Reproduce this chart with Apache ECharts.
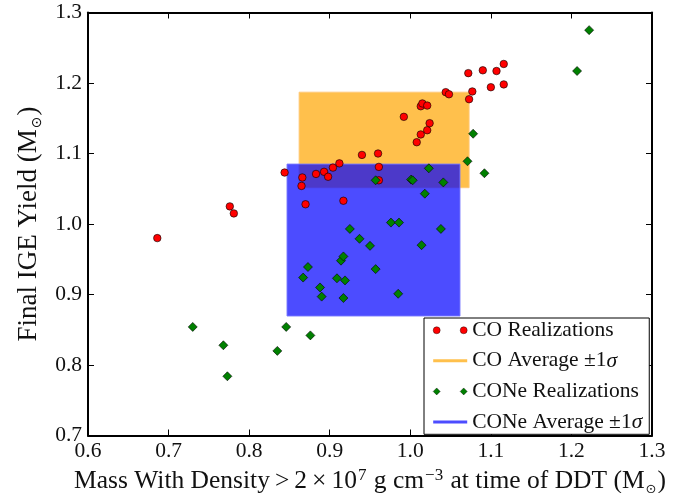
<!DOCTYPE html>
<html>
<head>
<meta charset="utf-8">
<script src="https://cdn.jsdelivr.net/npm/echarts@6/dist/echarts.min.js"></script>
<style>
html,body{margin:0;padding:0;background:#fff;}
#chart{width:699px;height:493px;}
</style>
</head>
<body>
<div id="chart"></div>
<script>
// ---- data ----
const xTicks = [0.6, 0.7, 0.8, 0.9, 1.0, 1.1, 1.2, 1.3];
const yTicks = [0.7, 0.8, 0.9, 1.0, 1.1, 1.2, 1.3];

const coMass = [0.686, 0.776, 0.781, 0.844, 0.866, 0.865, 0.870, 0.883, 0.893, 0.898, 0.904, 0.912, 0.917, 0.940, 0.960, 0.961, 0.961, 0.992, 1.008, 1.013, 1.021, 1.024, 1.013, 1.015, 1.021, 1.044, 1.048, 1.073, 1.077, 1.072, 1.090, 1.107, 1.116, 1.100, 1.116];
const coYield = [0.980, 1.025, 1.015, 1.073, 1.066, 1.054, 1.028, 1.071, 1.074, 1.067, 1.080, 1.086, 1.033, 1.098, 1.100, 1.081, 1.062, 1.152, 1.116, 1.127, 1.133, 1.143, 1.167, 1.171, 1.168, 1.187, 1.184, 1.177, 1.188, 1.214, 1.218, 1.217, 1.227, 1.194, 1.198];

const coneMass = [0.730, 0.768, 0.773, 0.835, 0.846, 0.876, 0.867, 0.873, 0.888, 0.890, 0.909, 0.919, 0.917, 0.914, 0.917, 0.925, 0.937, 0.950, 0.957, 0.976, 0.986, 0.985, 1.014, 1.038, 1.018, 0.957, 1.001, 1.003, 1.023, 1.041, 1.071, 1.092, 1.078, 1.207, 1.222];
const coneYield = [0.854, 0.828, 0.784, 0.820, 0.854, 0.842, 0.924, 0.939, 0.910, 0.897, 0.923, 0.920, 0.895, 0.948, 0.954, 0.993, 0.979, 0.969, 0.936, 1.002, 1.002, 0.901, 0.970, 0.993, 1.043, 1.062, 1.063, 1.062, 1.079, 1.059, 1.089, 1.072, 1.128, 1.217, 1.275];

// average +/- 1 sigma ranges
const coAvgMass = [0.862, 1.073];
const coAvgYield = [1.0515, 1.187];
const coneAvgMass = [0.847, 1.0617];
const coneAvgYield = [0.8695, 1.085];

const seriesNames = ['CO Realizations', 'CO Average ±1σ', 'CONe Realizations', 'CONe Average ±1σ'];

// ---- chart ----
const FONT = 'Liberation Serif';
const chart = echarts.init(document.getElementById('chart'), null, {renderer: 'canvas'});

const zip = (a, b) => a.map((v, i) => [v, b[i]]);

const RED = '#ff0000', GREEN = '#008000';
const ORANGE = 'rgba(255,165,0,0.7)', BLUE = 'rgba(0,0,255,0.7)';

function boxSeries(name, xr, yr, fill, stroke, z) {
  return {
    name: name,
    type: 'custom',
    z: z,
    data: [[xr[0], yr[0], xr[1], yr[1]]],
    encode: {x: [0, 2], y: [1, 3]},
    itemStyle: {color: fill},
    renderItem: function (params, api) {
      const p0 = api.coord([api.value(0), api.value(3)]);
      const p1 = api.coord([api.value(2), api.value(1)]);
      return {
        type: 'rect',
        shape: {x: p0[0], y: p0[1], width: p1[0] - p0[0], height: p1[1] - p0[1]},
        style: {fill: fill, stroke: stroke, lineWidth: 1}
      };
    }
  };
}

function richFor(fs) {
  return {
    n: {fontFamily: FONT, fontSize: fs, color: '#111', lineHeight: fs + 3},
    sp: {fontFamily: FONT, fontSize: fs, color: '#111', lineHeight: fs + 3, padding: [0, 5, 0, 5]},
    sup: {fontFamily: FONT, fontSize: Math.round(fs * 0.66), color: '#111', verticalAlign: 'top', lineHeight: Math.round(fs * 0.6), padding: [0, 1, 0, 1]},
    sub: {fontFamily: 'DejaVu Sans', fontSize: Math.round(fs * 0.52), color: '#111', verticalAlign: 'bottom', lineHeight: Math.round(fs * 0.5), padding: [0, 1, 0, 1]},
    it: {fontFamily: FONT, fontSize: fs, fontStyle: 'italic', color: '#111', lineHeight: fs + 3}
  };
}

const axisCommon = {
  type: 'value',
  splitLine: {show: false},
  axisLine: {show: true, onZero: false, lineStyle: {color: '#000', width: 2}},
  axisTick: {show: true, inside: true, length: 6, lineStyle: {color: '#000', width: 1}},
};

const legendText = {color: '#111', fontFamily: FONT, fontSize: 21.5, lineHeight: 23, rich: richFor(21.5)};

const option = {
  backgroundColor: '#fff',
  animation: false,
  textStyle: {fontFamily: FONT, color: '#111'},
  grid: {left: 88, right: 47, top: 12.5, bottom: 57.5, containLabel: false, outerBoundsMode: 'none'},
  xAxis: [
    Object.assign({}, axisCommon, {
      position: 'bottom', min: xTicks[0], max: xTicks[xTicks.length - 1], interval: 0.1,
      axisLabel: {color: '#111', fontFamily: FONT, fontSize: 21.5, margin: 5,
        formatter: v => v.toFixed(1)},
      name: '{n|Mass With Density}{sp|>}{n|2}{sp|×}{n|10}{sup|7}{n| g cm}{sup|−3}{n| at time of DDT (M}{sub|⊙}{n|)}',
      nameLocation: 'middle', nameGap: 28,
      nameTextStyle: {color: '#111', fontFamily: FONT, fontSize: 25.5, rich: richFor(25.5)}
    }),
    Object.assign({}, axisCommon, {
      position: 'top', min: xTicks[0], max: xTicks[xTicks.length - 1], interval: 0.1,
      axisLabel: {show: false}
    })
  ],
  yAxis: [
    Object.assign({}, axisCommon, {
      position: 'left', min: yTicks[0], max: yTicks[yTicks.length - 1], interval: 0.1,
      axisLabel: {color: '#111', fontFamily: FONT, fontSize: 21.5, margin: 6,
        formatter: v => v.toFixed(1)},
      name: '{n|Final IGE Yield (M}{sub|⊙}{n|)}',
      nameLocation: 'middle', nameGap: 41, nameRotate: 90,
      nameTextStyle: {color: '#111', fontFamily: FONT, fontSize: 27, rich: richFor(27)}
    }),
    Object.assign({}, axisCommon, {
      position: 'right', min: yTicks[0], max: yTicks[yTicks.length - 1], interval: 0.1,
      axisLabel: {show: false}
    })
  ],
  legend: {
    orient: 'vertical',
    left: 424, top: 318,
    backgroundColor: '#fff',
    borderColor: '#000', borderWidth: 1,
    padding: [0, 7, 0, 9],
    itemGap: 6.1,
    itemWidth: 34, itemHeight: 10,
    textStyle: legendText,
    formatter: function (name) {
      if (name.indexOf('σ') >= 0) {
        return '{n|' + name.replace('σ', '') + '}{it|σ}';
      }
      return '{n|' + name + '}';
    },
    data: [
      {name: seriesNames[0], icon: 'path://M0,3.5a3.5,3.5 0 1,0 7,0a3.5,3.5 0 1,0 -7,0zM27,3.5a3.5,3.5 0 1,0 7,0a3.5,3.5 0 1,0 -7,0z', itemStyle: {borderWidth: 0.4}},
      {name: seriesNames[1], icon: 'path://M0,0L34,0L34,3L0,3Z', itemStyle: {borderWidth: 0}},
      {name: seriesNames[2], icon: 'path://M0,3.5L3.5,0L7,3.5L3.5,7ZM27,3.5L30.5,0L34,3.5L30.5,7Z', itemStyle: {borderWidth: 0.4}},
      {name: seriesNames[3], icon: 'path://M0,0L34,0L34,3L0,3Z', itemStyle: {borderWidth: 0}}
    ]
  },
  series: [
    boxSeries(seriesNames[1], coAvgMass, coAvgYield, ORANGE, 'rgba(255,200,120,0.9)', 1),
    boxSeries(seriesNames[3], coneAvgMass, coneAvgYield, BLUE, 'rgba(120,120,255,0.9)', 2),
    {
      name: seriesNames[0], type: 'scatter', z: 3,
      symbol: 'circle', symbolSize: 7.5,
      itemStyle: {color: RED, borderColor: '#000', borderWidth: 0.6, opacity: 1},
      data: zip(coMass, coYield)
    },
    {
      name: seriesNames[2], type: 'scatter', z: 4,
      symbol: 'diamond', symbolSize: 9,
      itemStyle: {color: GREEN, borderColor: '#000', borderWidth: 0.6, opacity: 1},
      data: zip(coneMass, coneYield)
    }
  ]
};

chart.setOption(option);
</script>
</body>
</html>
